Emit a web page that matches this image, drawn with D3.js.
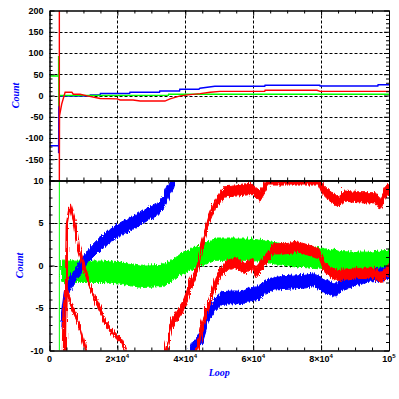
<!DOCTYPE html>
<html><head><meta charset="utf-8">
<script src="https://cdn.jsdelivr.net/npm/d3@7"></script>
<style>body{margin:0;background:#fff}svg{display:block}</style>
</head><body><svg id="c" width="399" height="399"></svg>
<script>
// ---------- data ----------
const xTickValues = [0, 20000, 40000, 60000, 80000, 100000];
const xTickLabels = [["0", ""], ["2×10", "4"], ["4×10", "4"], ["6×10", "4"], ["8×10", "4"], ["10", "5"]];
const topYTicks = [-150, -100, -50, 0, 50, 100, 150, 200];
const botYTicks = [-10, -5, 0, 5, 10];
const xTitle = "Loop";
const yTitle = "Count";

// top panel series: [loop, count]
const topBlue = [[0,-118],[2700,-118],[2700,-136],[2750,-25],[2900,-1],[11800,-1],[12000,1],[14900,1],[15000,5],[23600,5],[23700,7.5],[32400,7.5],[32500,10.6],[38300,10.6],[38400,14.5],[44000,14.5],[44300,17],[48700,21.6],[63400,21.6],[63500,24],[79600,24],[79700,22.3],[96700,22.3],[96800,25.4],[100000,25.4]];
const topGreen = [[0,46],[2700,46],[2700,93],[2780,-25],[2900,0],[35000,0.5],[35100,2.8],[100000,2.8]];
const topRed = [[2900,200],[2900,-200],[2950,-48],[3600,-20],[4600,7.5],[6600,7.5],[7000,3],[9000,3],[11100,-1],[14900,-7],[19900,-8],[20800,-10.6],[24600,-10.6],[26700,-13],[34000,-13],[35500,-8],[38500,-1],[41400,2],[44400,4.3],[47300,7.5],[50200,9.8],[63400,9.8],[63500,12.2],[78800,12.2],[79700,9.8],[100000,9.8]];

// bottom panel series: [loop, count] (centre of noisy band) and band half-spread
const botGreenSpike = [[2900,10],[2900,-10]];
const botGreen = [[3000,-0.5],[8000,-0.5],[14900,-0.5],[20000,-0.7],[26700,-1.1],[32600,-1.0],[35000,-0.6],[37500,0.2],[43400,1.3],[48300,2.1],[59100,2.1],[64000,1.8],[69900,1.4],[78700,1.1],[85600,0.6],[93400,0.55],[100000,0.8]];
const botBlue1 = [[3100,-6.4],[3600,-4.5],[4100,-2.9],[6000,-1.7],[9000,0.3],[11000,1.5],[14000,2.7],[19800,4.3],[25000,5.4],[28000,6.2],[31000,6.7],[33000,7.6],[34500,8.9],[36000,10],[36600,11]];
const botBlue2 = [[40800,-10.5],[41500,-9.6],[44400,-8.2],[46300,-5.6],[48300,-4.4],[50200,-3.6],[54200,-3.5],[56100,-3.6],[58100,-3.2],[61000,-3.0],[63000,-2.4],[65900,-1.9],[69900,-1.8],[73800,-1.7],[77700,-1.5],[79700,-2.1],[83600,-2.7],[85600,-2.0],[89500,-1.4],[93400,-1.0],[97400,-0.8],[100000,-0.6]];
const botRedA = [[4100,-10.5],[4600,5],[5600,7.3],[7000,5],[8000,2.4],[10000,-0.5],[11500,-2.3],[13900,-4.6],[15900,-6.5],[18300,-7.8],[20800,-8.7],[22300,-10.5]];
const botRedB = [[3700,-10.5],[3900,-4],[4200,-2.2],[5500,-4],[7100,-5.6],[8600,-7.2],[10500,-10.5]];
const botRedC1 = [[33500,-10.5],[35500,-6.7],[38500,-4.8],[41400,-1.7],[43400,0],[44400,2.5],[46300,5.4],[48300,7.4],[51200,8.9],[54200,9.0],[59100,9.2],[61400,8.4],[63000,9.5],[64000,10.3],[78700,10.3],[79700,9.3],[81700,8.5],[84600,7.7],[86600,8.4],[90500,8.2],[95400,8.2],[96900,7.4],[98400,8.8],[100000,9.2]];
const botRedC2 = [[42300,-10.5],[43500,-9],[44400,-7.2],[46300,-4.4],[48300,-2],[50200,-0.5],[52200,0.3],[54200,0.5],[57100,-0.1],[59100,0.5],[60500,-0.6],[61400,-0.1],[63000,0.9],[65500,2.2],[68900,2.2],[72800,2.4],[77700,1.8],[79200,1.5],[80700,-0.1],[83600,-0.9],[86600,-0.9],[90500,-0.7],[95400,-0.7],[97400,-1.3],[98900,-0.5],[100000,0]];
const spreadGreen = 1.25, spreadBlue = 0.75, spreadRedThin = 0.3, spreadRed = 0.6;

// ---------- layout ----------
const L = 49.5, R = 389, T1 = 10.5, M = 180.5, B2 = 350.5;
const svg = d3.select("#c");
const x = d3.scaleLinear().domain([0, 100000]).range([L, R]);
const yTop = d3.scaleLinear().domain([-200, 200]).range([M, T1]);
const yBot = d3.scaleLinear().domain([-10, 10]).range([B2, M]);
const BLUE = "#0000ff", RED = "#ff0000", GREEN = "#00ff00";
const tickFont = "bold 9px 'Liberation Sans', Arial, sans-serif";

const defs = svg.append("defs");
defs.append("clipPath").attr("id", "clipTop").append("rect").attr("x", L).attr("y", T1).attr("width", R - L).attr("height", M - T1);
defs.append("clipPath").attr("id", "clipBot").append("rect").attr("x", L).attr("y", M).attr("width", R - L).attr("height", B2 - M);
// rendering style: jagged edges for the noisy bands
const f = defs.append("filter").attr("id", "jag").attr("x", "-5%").attr("y", "-5%").attr("width", "110%").attr("height", "110%");
f.append("feTurbulence").attr("type", "turbulence").attr("baseFrequency", "0.7 0.02").attr("numOctaves", 1).attr("seed", 3).attr("result", "n");
f.append("feDisplacementMap").attr("in", "SourceGraphic").attr("in2", "n").attr("scale", 5).attr("xChannelSelector", "B").attr("yChannelSelector", "R");

function grid(yScale, yMajor, top, bottom) {
  const g = svg.append("g").attr("stroke", "#000").attr("stroke-width", 1).attr("stroke-dasharray", "3,2");
  xTickValues.slice(1, -1).forEach(v => {
    g.append("line").attr("x1", Math.round(x(v)) + 0.5).attr("x2", Math.round(x(v)) + 0.5).attr("y1", top).attr("y2", bottom);
  });
  yMajor.slice(1, -1).forEach(v => {
    g.append("line").attr("y1", Math.round(yScale(v)) + 0.5).attr("y2", Math.round(yScale(v)) + 0.5).attr("x1", L).attr("x2", R);
  });
}
const topMajor = d3.range(-200, 201, 50);
grid(yTop, topMajor, T1, M);
grid(yBot, botYTicks, M, B2);

// ---------- series ----------
const line = (ys) => d3.line().x(d => x(d[0])).y(d => ys(d[1]));
const gTop = svg.append("g").attr("clip-path", "url(#clipTop)").attr("fill", "none");
gTop.append("path").datum(topBlue).attr("d", line(yTop)).attr("stroke", BLUE).attr("stroke-width", 1.5);
gTop.append("path").datum(topGreen).attr("d", line(yTop)).attr("stroke", GREEN).attr("stroke-width", 1.5);
gTop.append("path").datum(topRed).attr("d", line(yTop)).attr("stroke", RED).attr("stroke-width", 1.4);

const gBotClip = svg.append("g").attr("clip-path", "url(#clipBot)");
const gBot = gBotClip.append("g").attr("filter", "url(#jag)");
function band(data, spread, color, w) {
  const g = gBot.append("g");
  const area = d3.area().x(d => x(d[0])).y0(d => yBot(d[1] - spread)).y1(d => yBot(d[1] + spread));
  g.append("path").datum(data).attr("d", area).attr("fill", color).attr("stroke", color).attr("stroke-width", 1);
  g.append("path").datum(data).attr("d", line(yBot)).attr("fill", "none").attr("stroke", color).attr("stroke-width", w);
}
band(botGreen, spreadGreen, GREEN, 2);
band(botBlue1, spreadBlue, BLUE, 3.5);
band(botBlue2, spreadBlue, BLUE, 3.5);
band(botRedA, spreadRedThin, RED, 3);
band(botRedB, spreadRedThin, RED, 2.6);
band(botRedC1, spreadRed, RED, 3);
band(botRedC2, spreadRed, RED, 3);
gBotClip.append("path").datum(botGreenSpike).attr("d", line(yBot)).attr("fill", "none").attr("stroke", GREEN).attr("stroke-width", 1);

// ---------- axes ----------
const xMinor = d3.range(0, 100001, 5000).filter(v => !xTickValues.includes(v));
const topMinor = d3.range(-200, 201, 10).filter(v => v % 50 !== 0);
const botMinor = d3.range(-10, 11, 1).filter(v => v % 5 !== 0);

function axisG(axis, tx, ty) {
  const g = svg.append("g").attr("transform", `translate(${tx},${ty})`).call(axis);
  g.selectAll("path.domain").attr("stroke", "#000").attr("stroke-width", 1);
  g.selectAll("line").attr("stroke", "#000");
  return g;
}
function panelAxes(ys, major, minor, top, bottom, labelVals) {
  const la = axisG(d3.axisLeft(ys).tickValues(major).tickSize(-5).tickSizeOuter(0).tickPadding(6)
    .tickFormat(v => labelVals.includes(v) ? String(v) : ""), L, 0);
  la.selectAll("text").style("font", tickFont).attr("fill", "#000");
  axisG(d3.axisLeft(ys).tickValues(minor).tickSize(-3).tickSizeOuter(0).tickFormat(""), L, 0);
  axisG(d3.axisRight(ys).tickValues(major).tickSize(-5).tickSizeOuter(0).tickFormat(""), R, 0);
  axisG(d3.axisRight(ys).tickValues(minor).tickSize(-3).tickSizeOuter(0).tickFormat(""), R, 0);
  axisG(d3.axisTop(x).tickValues(xTickValues).tickSize(-5).tickSizeOuter(0).tickFormat(""), 0, top);
  axisG(d3.axisTop(x).tickValues(xMinor).tickSize(-3).tickSizeOuter(0).tickFormat(""), 0, top);
  axisG(d3.axisBottom(x).tickValues(xTickValues).tickSize(-5).tickSizeOuter(0).tickFormat(""), 0, bottom);
  axisG(d3.axisBottom(x).tickValues(xMinor).tickSize(-3).tickSizeOuter(0).tickFormat(""), 0, bottom);
}
panelAxes(yTop, topMajor, topMinor, T1, M, topYTicks);
panelAxes(yBot, botYTicks, botMinor, M, B2, botYTicks);

// x tick labels with superscripts
const xl = svg.append("g");
xTickValues.forEach((v, i) => {
  const t = xl.append("text").attr("x", x(v)).attr("y", 362).attr("text-anchor", "middle")
    .style("font", tickFont).attr("fill", "#000");
  t.append("tspan").text(xTickLabels[i][0]);
  if (xTickLabels[i][1]) t.append("tspan").attr("dy", -4).style("font-size", "6px").text(xTickLabels[i][1]);
});

// titles
const titleFont = "bold italic 10px 'Liberation Serif', 'Times New Roman', serif";
svg.append("text").attr("x", (L + R) / 2).attr("y", 376).attr("text-anchor", "middle")
  .style("font", titleFont).attr("fill", BLUE).text(xTitle);
svg.append("text").attr("transform", `translate(19,${(T1 + M) / 2}) rotate(-90)`).attr("text-anchor", "middle")
  .style("font", titleFont).attr("fill", BLUE).text(yTitle);
svg.append("text").attr("transform", `translate(23,${(M + B2) / 2}) rotate(-90)`).attr("text-anchor", "middle")
  .style("font", titleFont).attr("fill", BLUE).text(yTitle);
</script></body></html>
